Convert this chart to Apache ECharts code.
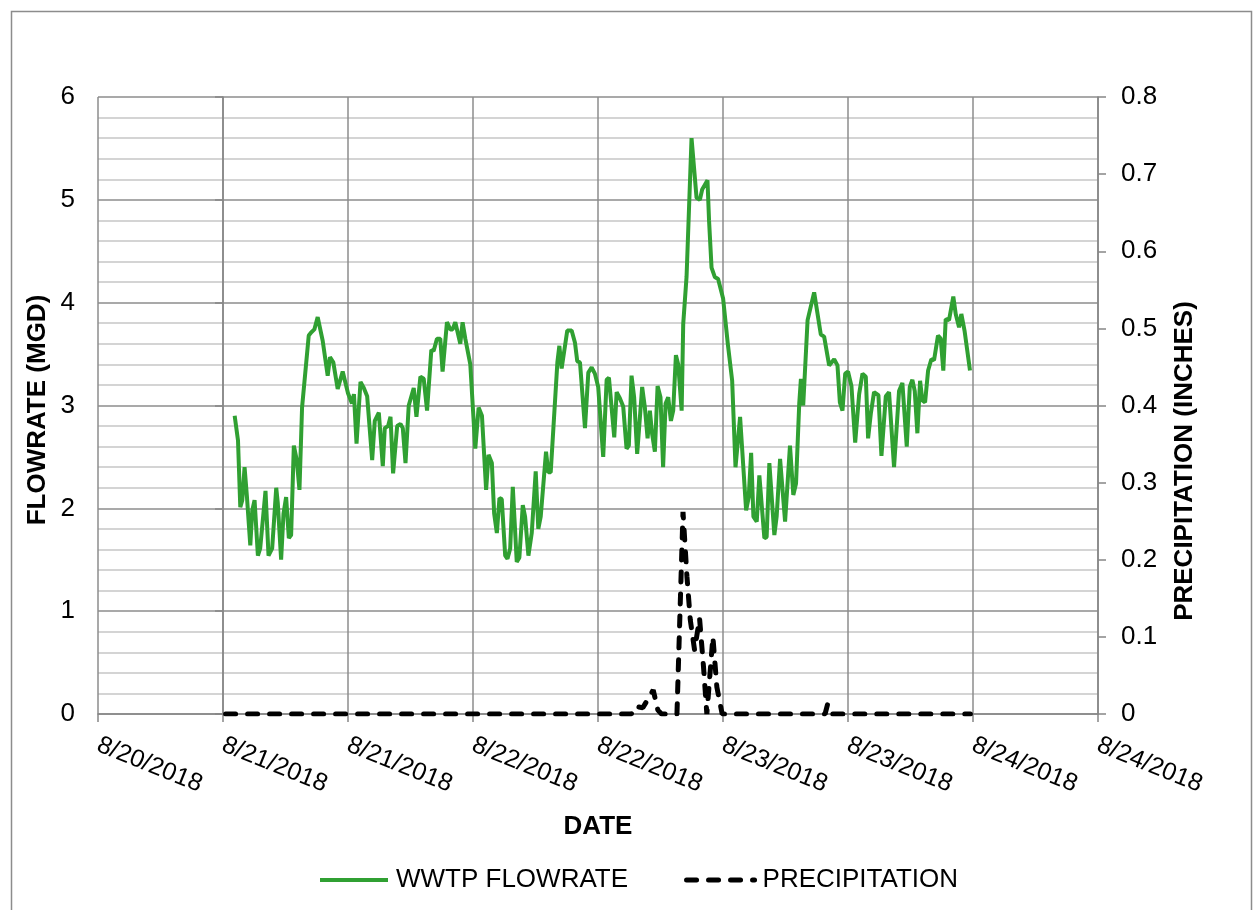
<!DOCTYPE html>
<html>
<head>
<meta charset="utf-8">
<script src="https://cdn.jsdelivr.net/npm/echarts@6/dist/echarts.min.js"></script>
<style>
html,body{margin:0;padding:0;background:#fff;}
#chart{width:1254px;height:910px;}
</style>
</head>
<body>
<div id="chart"></div>
<script>
// hours since 8/21/2018 00:00
const dateTickLabels = ['8/20/2018','8/21/2018','8/21/2018','8/22/2018','8/22/2018','8/23/2018','8/23/2018','8/24/2018','8/24/2018'];

// WWTP flowrate (MGD): [hour, value]
const flowrate = [
[1.12,2.90],[1.44,2.66],[1.66,2.01],[1.85,2.08],[2.07,2.40],[2.30,2.11],[2.62,1.64],[2.81,1.98],[3.03,2.08],[3.35,1.54],[3.57,1.61],[4.08,2.17],[4.37,1.54],[4.72,1.61],[5.11,2.20],[5.26,2.05],[5.58,1.50],[5.81,1.95],[6.06,2.11],[6.32,1.71],[6.54,1.74],[6.80,2.61],[7.08,2.47],[7.34,2.18],[7.59,2.98],[8.23,3.68],[8.46,3.71],[8.77,3.74],[9.09,3.86],[9.57,3.63],[10.05,3.29],[10.27,3.47],[10.59,3.42],[11.01,3.16],[11.49,3.33],[12.0,3.12],[12.38,3.02],[12.57,3.11],[12.82,2.63],
[13.2,3.23],[13.52,3.17],[13.84,3.09],[14.32,2.47],[14.57,2.85],[14.96,2.93],[15.34,2.41],[15.53,2.78],[15.85,2.80],[16.08,2.89],[16.33,2.34],[16.72,2.80],[17.04,2.82],[17.26,2.78],[17.52,2.44],[17.83,3.00],[18.31,3.17],[18.57,2.89],[18.95,3.28],[19.27,3.26],[19.59,2.95],[20.0,3.54],[20.22,3.53],[20.54,3.65],[20.86,3.65],[21.08,3.33],[21.5,3.81],[21.82,3.74],[22.04,3.74],[22.3,3.81],[22.78,3.60],[23.0,3.81],[23.26,3.65],[23.74,3.40],[24.22,2.58],
[24.54,2.98],[24.86,2.90],[25.26,2.18],[25.49,2.52],[25.81,2.44],[26.03,1.95],[26.29,1.76],[26.54,2.10],[26.76,2.09],[27.09,1.54],[27.31,1.51],[27.57,1.61],[27.82,2.21],[28.2,1.48],[28.45,1.52],[28.78,2.03],[29.0,1.92],[29.32,1.54],[29.64,1.76],[30.02,2.36],[30.27,1.80],[30.5,1.92],[31.01,2.55],[31.23,2.35],[31.46,2.35],[32.1,3.42],[32.29,3.58],[32.51,3.36],[33.05,3.73],[33.47,3.73],[33.79,3.61],[34.01,3.43],[34.27,3.42],[34.75,2.78],[35.07,3.32],[35.39,3.37],[35.7,3.31],
[36.02,3.18],[36.5,2.50],[36.83,3.25],[37.05,3.27],[37.56,2.69],[37.79,3.13],[38.1,3.07],[38.42,2.99],[38.74,2.58],[38.96,2.61],[39.22,3.29],[39.47,3.08],[39.76,2.53],[40.24,3.18],[40.5,2.98],[40.76,2.68],[40.98,2.95],[41.2,2.72],[41.46,2.55],[41.72,3.19],[42.0,3.08],[42.25,2.40],[42.49,3.02],[42.74,3.08],[43.0,2.85],[43.22,2.95],[43.48,3.49],[43.7,3.40],[44.03,2.95],[44.18,3.79],[44.5,4.25],[44.98,5.60],[45.46,5.02],[45.78,5.00],[46.0,5.10],[46.51,5.19],[46.66,4.80],[46.9,4.34],[47.21,4.25],[47.53,4.23],[48.01,4.04],
[48.46,3.60],[48.88,3.24],[49.2,2.40],[49.64,2.89],[50.22,1.98],[50.47,2.11],[50.7,2.54],[50.92,1.92],[51.24,1.87],[51.49,2.32],[51.97,1.71],[52.19,1.72],[52.45,2.44],[52.93,1.74],[53.15,1.92],[53.48,2.48],[53.96,1.87],[54.43,2.61],[54.75,2.13],[55.01,2.24],[55.32,3.02],[55.48,3.26],[55.7,3.00],[56.12,3.83],[56.75,4.10],[57.39,3.69],[57.71,3.67],[58.19,3.39],[58.67,3.45],[58.99,3.39],[59.22,3.03],[59.47,2.95],[59.73,3.31],[60.0,3.33],
[60.33,3.19],[60.69,2.64],[61.07,3.11],[61.39,3.31],[61.71,3.28],[61.93,2.68],[62.19,2.92],[62.5,3.13],[62.92,3.10],[63.21,2.51],[63.63,3.09],[63.94,3.13],[64.42,2.40],[64.9,3.14],[65.22,3.22],[65.64,2.60],[65.93,3.18],[66.18,3.25],[66.41,3.14],[66.66,2.73],[66.92,3.24],[67.14,3.05],[67.4,3.03],[67.69,3.34],[68.0,3.45],[68.26,3.44],[68.64,3.68],[68.9,3.65],[69.15,3.34],[69.38,3.84],[69.7,3.83],[70.11,4.06],[70.34,3.89],[70.66,3.76],[70.88,3.89],[71.2,3.72],[71.71,3.34]
];

// Precipitation (inches): [hour, value]
const precipitation = [
[0.25,0],[39.2,0],[39.6,0.01],[40.3,0.008],[41.3,0.031],[41.75,0.005],[42.1,0],[43.58,0],[44.16,0.262],[44.54,0.178],[44.86,0.122],[45.27,0.083],[45.75,0.124],[46.13,0.061],[46.45,0],[47.03,0.100],[47.41,0.035],[47.92,0],[57.8,0],[58.03,0.012],[58.35,0],[71.75,0]
];

const FONT = '"Liberation Sans", Arial, sans-serif';
const AXIS_GRAY = '#868686';
const HIDDEN_SYMBOL = {color:'rgba(0,0,0,0)', borderWidth:0, borderColor:'rgba(0,0,0,0)', opacity:0};

const chart = echarts.init(document.getElementById('chart'), null, {renderer:'canvas'});
chart.setOption({
  backgroundColor:'#ffffff',
  animation:false,
  textStyle:{fontFamily:FONT},
  grid:{left:98, right:156, top:97, bottom:196, containLabel:false},
  xAxis:{
    type:'value', min:-12, max:84, interval:12,
    axisLine:{show:true, lineStyle:{color:AXIS_GRAY, width:1.5}},
    axisTick:{show:true, length:8, lineStyle:{color:AXIS_GRAY, width:1.5}},
    axisLabel:{rotate:-22, margin:30, fontSize:25, color:'#000', fontFamily:FONT,
      formatter:function(v){ return dateTickLabels[Math.round((v+12)/12)] || ''; }},
    splitLine:{show:true, lineStyle:{color:'#8c8c8c', width:1.5}}
  },
  yAxis:[{
    type:'value', min:0, max:6, interval:1, position:'left',
    axisLine:{show:true, lineStyle:{color:AXIS_GRAY, width:1.5}},
    axisTick:{show:true, length:8, lineStyle:{color:AXIS_GRAY, width:1.5}},
    axisLabel:{margin:23, fontSize:26, color:'#000', fontFamily:FONT},
    splitLine:{show:true, lineStyle:{color:'#8c8c8c', width:1.5}},
    minorTick:{show:false, splitNumber:5},
    minorSplitLine:{show:true, lineStyle:{color:'#c6c6c6', width:1.5}}
  },{
    type:'value', min:0, max:0.8, interval:0.1, position:'right',
    axisLine:{show:true, lineStyle:{color:AXIS_GRAY, width:1.5}},
    axisTick:{show:true, length:8, lineStyle:{color:AXIS_GRAY, width:1.5}},
    axisLabel:{margin:23, fontSize:26, color:'#000', fontFamily:FONT,
      formatter:function(v){ return v===0 ? '0' : v.toFixed(1); }},
    splitLine:{show:false}
  }],
  legend:{
    left:313, top:862, itemWidth:68, itemHeight:20, itemGap:56,
    textStyle:{fontSize:26, color:'#000', fontFamily:FONT, padding:[0,0,0,3]},
    itemStyle:HIDDEN_SYMBOL,
    data:[
      {name:'WWTP FLOWRATE', lineStyle:{width:4}, itemStyle:HIDDEN_SYMBOL},
      {name:'PRECIPITATION', lineStyle:{width:5}, itemStyle:HIDDEN_SYMBOL}
    ]
  },
  series:[{
    name:'WWTP FLOWRATE', type:'line', yAxisIndex:0, symbol:'none',
    data:flowrate, lineStyle:{color:'#30a032', width:4}, itemStyle:{color:'#30a032'}
  },{
    name:'PRECIPITATION', type:'line', yAxisIndex:1, symbol:'none',
    data:precipitation, lineStyle:{color:'#000', width:5, type:[10,12], cap:'round'}, itemStyle:{color:'#000'}
  }],
  graphic:[
    {type:'rect', silent:true, shape:{x:11.5, y:11.5, width:1240, height:930},
     style:{fill:'none', stroke:'#8c8c8c', lineWidth:1.5}},
    {type:'text', x:38, y:410, rotation:Math.PI/2,
     style:{text:'FLOWRATE (MGD)', font:'bold 26px '+FONT, fill:'#000', align:'center', verticalAlign:'middle'}},
    {type:'text', x:1185, y:461, rotation:Math.PI/2,
     style:{text:'PRECIPITATION (INCHES)', font:'bold 26px '+FONT, fill:'#000', align:'center', verticalAlign:'middle'}},
    {type:'text', x:598, y:827,
     style:{text:'DATE', font:'bold 26px '+FONT, fill:'#000', align:'center', verticalAlign:'middle'}}
  ]
});
</script>
</body>
</html>
